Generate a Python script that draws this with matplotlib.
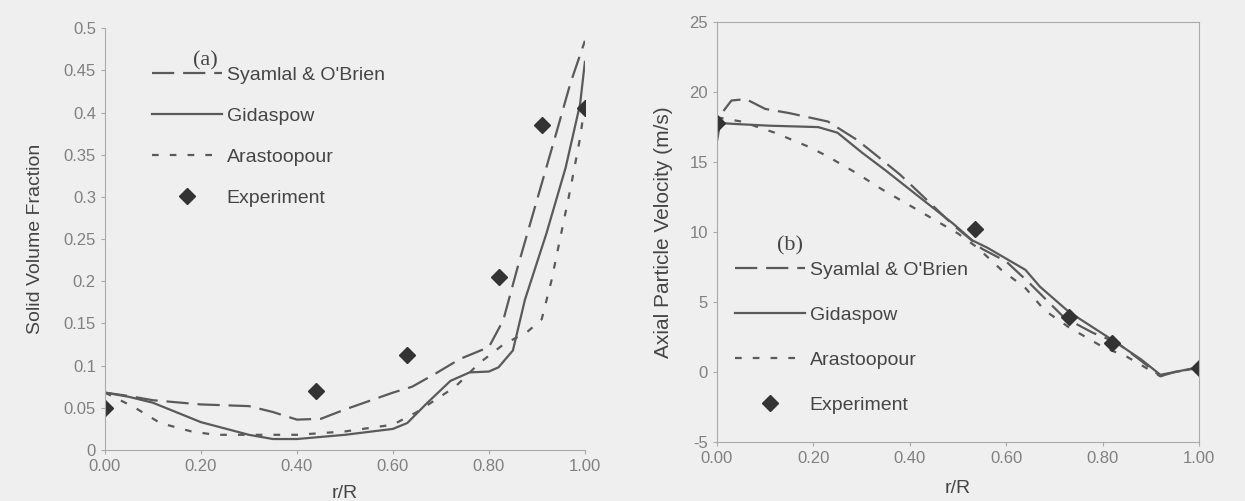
import numpy as np
import matplotlib
matplotlib.use('Agg')
from matplotlib import pyplot as plt

plt.rcParams['font.family'] = ['Liberation Sans', 'DejaVu Sans']
plt.rcParams['axes.unicode_minus'] = False

# (a) solid volume fraction
a_syam_x = [0.0, 0.05, 0.1, 0.2, 0.3, 0.35, 0.4, 0.45, 0.5, 0.55, 0.6, 0.64, 0.69, 0.74, 0.8, 0.83, 0.86, 0.9, 0.94, 0.97, 1.0]
a_syam_y = [0.068, 0.064, 0.059, 0.054, 0.052, 0.045, 0.036, 0.037, 0.048, 0.058, 0.068, 0.075, 0.091, 0.108, 0.122, 0.154, 0.217, 0.296, 0.375, 0.435, 0.485]
a_gida_x = [0.0, 0.05, 0.1, 0.2, 0.3, 0.35, 0.4, 0.5, 0.6, 0.63, 0.67, 0.72, 0.76, 0.8, 0.82, 0.85, 0.875, 0.92, 0.96, 0.99, 1.0]
a_gida_y = [0.068, 0.063, 0.056, 0.033, 0.018, 0.013, 0.013, 0.018, 0.025, 0.032, 0.055, 0.082, 0.092, 0.093, 0.098, 0.118, 0.178, 0.257, 0.335, 0.41, 0.46]
a_aras_x = [0.0, 0.06, 0.115, 0.18, 0.23, 0.3, 0.4, 0.5, 0.6, 0.65, 0.73, 0.78, 0.83, 0.88, 0.91, 0.93, 0.95, 0.97, 0.99, 1.0]
a_aras_y = [0.068, 0.051, 0.032, 0.022, 0.018, 0.018, 0.018, 0.022, 0.03, 0.045, 0.075, 0.103, 0.125, 0.14, 0.155, 0.2, 0.255, 0.31, 0.37, 0.41]
a_exp_x = [0.0, 0.44, 0.63, 0.82, 0.91, 1.0]
a_exp_y = [0.05, 0.07, 0.113, 0.205, 0.385, 0.405]

# (b) axial particle velocity
b_syam_x = [0.0, 0.01, 0.03, 0.06, 0.1, 0.15, 0.19, 0.23, 0.29, 0.33, 0.38, 0.42, 0.49, 0.55, 0.6, 0.65, 0.72, 0.78, 0.83, 0.88, 0.92, 0.95, 1.0]
b_syam_y = [16.5, 18.5, 19.4, 19.5, 18.8, 18.5, 18.2, 17.9, 16.6, 15.5, 14.1, 12.8, 10.5, 8.8, 7.9, 6.3, 3.9, 2.8, 2.1, 0.8, -0.3, 0.0, 0.3]
b_gida_x = [0.0, 0.05, 0.11, 0.21, 0.25, 0.3, 0.35, 0.42, 0.49, 0.53, 0.56, 0.61, 0.64, 0.67, 0.73, 0.82, 0.88, 0.92, 0.95, 1.0]
b_gida_y = [17.8, 17.7, 17.6, 17.5, 17.1, 15.7, 14.4, 12.5, 10.6, 9.4, 8.9, 7.9, 7.3, 6.1, 4.3, 2.3, 0.9, -0.2, 0.0, 0.35]
b_aras_x = [0.0, 0.05, 0.12, 0.19, 0.23, 0.29, 0.34, 0.39, 0.44, 0.5, 0.54, 0.59, 0.64, 0.68, 0.73, 0.8, 0.85, 0.92, 0.95, 1.0]
b_aras_y = [18.2, 17.9, 17.1, 16.1, 15.4, 14.2, 13.1, 12.1, 11.1, 9.9, 8.9, 7.3, 6.0, 4.4, 3.2, 1.8, 1.1, -0.3, 0.0, 0.3]
b_exp_x = [0.0, 0.535, 0.73, 0.82, 1.0]
b_exp_y = [17.8, 10.2, 3.9, 2.1, 0.3]

labels = ['Syamlal & O\'Brien', 'Gidaspow', 'Arastoopour', 'Experiment']
line_col = '#5a5a5a'
axis_col = '#aaaaaa'
tick_col = '#808080'
text_col = '#454545'

fig = plt.figure(figsize=(12.45, 5.01), dpi=100)
fig.patch.set_facecolor('#efefef')

ax1 = fig.add_axes([0.0843, 0.1018, 0.3855, 0.842])
ax2 = fig.add_axes([0.5759, 0.1178, 0.3871, 0.838])


def draw(ax, sx, sy, gx, gy, rx, ry, ex, ey):
    ax.plot(sx, sy, color=line_col, lw=1.6, dashes=(10, 4), label=labels[0])
    ax.plot(gx, gy, color=line_col, lw=1.6, label=labels[1])
    ax.plot(rx, ry, color=line_col, lw=1.6, dashes=(3, 5), label=labels[2])
    ax.plot(ex, ey, 'D', color='#333333', ms=8, ls='none', label=labels[3])
    ax.set_facecolor('none')
    ax.tick_params(colors=axis_col, labelcolor=tick_col, labelsize=12, length=3)
    ax.set_xlim(0, 1.0)
    ax.set_xticks(np.arange(0, 1.01, 0.2))
    ax.set_xticklabels(['%.2f' % v for v in np.arange(0, 1.01, 0.2)])


draw(ax1, a_syam_x, a_syam_y, a_gida_x, a_gida_y, a_aras_x, a_aras_y, a_exp_x, a_exp_y)
ax1.set_ylim(0, 0.5)
yt = np.arange(0, 0.501, 0.05)
ax1.set_yticks(yt)
ax1.set_yticklabels(['%g' % round(v, 2) for v in yt])
ax1.set_ylabel('Solid Volume Fraction', fontsize=14, color=text_col, labelpad=14)
ax1.set_xlabel('r/R', fontsize=14, color=text_col, labelpad=8)
for s in ['top', 'right']:
    ax1.spines[s].set_visible(False)
for s in ['left', 'bottom']:
    ax1.spines[s].set_color(axis_col)
ax1.text(0.183, 0.912, '(a)', transform=ax1.transAxes, fontsize=16,
         family='Liberation Serif', color=text_col)
ax1.legend(loc='upper left', bbox_to_anchor=(0.098, 0.91), frameon=False,
           fontsize=14, handlelength=3.6, labelspacing=1.2, borderpad=0,
           borderaxespad=0, handletextpad=0.25, labelcolor=text_col)

draw(ax2, b_syam_x, b_syam_y, b_gida_x, b_gida_y, b_aras_x, b_aras_y, b_exp_x, b_exp_y)
ax2.set_ylim(-5, 25)
ax2.set_yticks(np.arange(-5, 26, 5))
ax2.set_ylabel('Axial Particle Velocity (m/s)', fontsize=15, color=text_col, labelpad=12)
ax2.set_xlabel('r/R', fontsize=14, color=text_col, labelpad=10)
for s in ['top', 'right', 'left', 'bottom']:
    ax2.spines[s].set_color(axis_col)
ax2.text(0.125, 0.455, '(b)', transform=ax2.transAxes, fontsize=16,
         family='Liberation Serif', color=text_col)
ax2.legend(loc='upper left', bbox_to_anchor=(0.037, 0.43), frameon=False,
           fontsize=14, handlelength=3.6, labelspacing=1.4, borderpad=0,
           borderaxespad=0, handletextpad=0.25, labelcolor=text_col)

fig.savefig('out.png', dpi=100, facecolor=fig.get_facecolor())
